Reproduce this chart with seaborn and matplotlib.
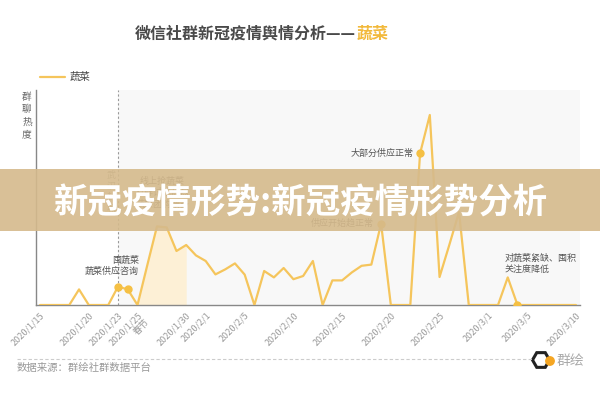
import numpy as np
import pandas as pd
import seaborn as sns
import matplotlib.pyplot as plt
from matplotlib.lines import Line2D
from matplotlib.patches import Rectangle, RegularPolygon, Circle

sns.set_theme(style='white')
plt.rcParams['font.family'] = ['Noto Sans CJK SC', 'DejaVu Sans']

# 群聊热度 (每日), 2020/1/15 - 2020/3/10
tanggal = pd.date_range('2020-01-15', '2020-03-10', freq='D')
heat = [0, 0, 0, 0, 7.8, 0, 0, 0, 9.2, 7.8,
        0, 19.8, 39.3, 38.8, 27, 30, 24.8, 22, 15.3, 17.8,
        20.8, 15.2, 0, 17, 13.8, 18.5, 12.9, 14.5, 22, 0,
        12.3, 12.3, 16.3, 19.6, 20.2, 40.7, 0, 0, 0, 75.8,
        95, 14, 30, 46.5, 0, 0, 0, 0, 13.8, 0,
        0, 0, 0, 0, 0, 0]

tick_dates = ['2020-01-15', '2020-01-20', '2020-01-23', '2020-01-25', '2020-01-30',
              '2020-02-01', '2020-02-05', '2020-02-10', '2020-02-15', '2020-02-20',
              '2020-02-25', '2020-03-01', '2020-03-05', '2020-03-10']
tick_labels = ['2020/1/15', '2020/1/20', '2020/1/23', '2020/1/25\n春节', '2020/1/30',
               '2020/2/1', '2020/2/5', '2020/2/10', '2020/2/15', '2020/2/20',
               '2020/2/25', '2020/3/1', '2020/3/5', '2020/3/10']

# 事件标注点
event_dates = ['2020-01-23', '2020-01-24', '2020-02-19', '2020-02-23', '2020-03-04']

df = pd.DataFrame({'tanggal': tanggal, 'heat': heat})
warna = '#f5c55c'

fig = plt.figure(figsize=(6, 4), dpi=100)
ax = fig.add_axes([0.06, 0.2375, 0.9067, 0.5375])

t0 = tanggal[0]
xmin = t0 - pd.Timedelta(hours=10)
xmax = t0 + pd.Timedelta(days=55, hours=10)

# latar abu-abu setelah 1/23
ax.axvspan(pd.Timestamp('2020-01-23'), xmax, color='#f8f8f8', zorder=0, lw=0)
ax.axvline(pd.Timestamp('2020-01-23'), color='#999999', lw=0.8, ls=(0, (2, 2)), zorder=1)

# area 春节 1/25 - 1/30
sub = df[(df.tanggal >= '2020-01-25') & (df.tanggal <= '2020-01-30')]
ax.fill_between(sub.tanggal, 0, sub.heat, color='#fdf0d6', zorder=1, lw=0)

sns.lineplot(data=df, x='tanggal', y='heat', color=warna, lw=1.6, ax=ax, zorder=3)

ev = df[df.tanggal.isin(pd.to_datetime(event_dates))]
ax.plot(ev.tanggal, ev.heat, 'o', color='#f5c044', ms=5, zorder=4)

ax.set_xlim(xmin, xmax)
ax.set_ylim(0, 107.5)
ax.set_xlabel('')
ax.set_ylabel('')
ax.set_yticks([])
ax.set_xticks(pd.to_datetime(tick_dates))
ax.set_xticklabels(tick_labels, rotation=45, ha='right', rotation_mode='anchor',
                   fontsize=6.5, color='#999999')
ax.tick_params(axis='x', direction='in', length=3, color='#999999', pad=4)
for s in ['top', 'right']:
    ax.spines[s].set_visible(False)
for s in ['left', 'bottom']:
    ax.spines[s].set_color('#888888')
    ax.spines[s].set_linewidth(1)

# anotasi
teks_kw = dict(fontsize=6.5, color='#555555')
ax.text(pd.Timestamp('2020-01-25 04:00'), 14.5, '囤蔬菜\n蔬菜供应咨询', ha='right', va='bottom',
        multialignment='right', linespacing=1.25, **teks_kw)
ax.annotate('供应开始趋正常', (pd.Timestamp('2020-02-19'), 40.7), xytext=(-5, 0),
            textcoords='offset points', ha='right', va='center', **teks_kw)
ax.annotate('大部分供应正常', (pd.Timestamp('2020-02-23'), 75.8), xytext=(-5, 0),
            textcoords='offset points', ha='right', va='center', **teks_kw)
ax.text(pd.Timestamp('2020-03-02 15:00'), 15.5, '对蔬菜紧缺、囤积\n关注度降低', ha='left', va='bottom',
        linespacing=1.25, **teks_kw)
ax.text(pd.Timestamp('2020-01-27 13:00'), 56, '线上抢蔬菜\n社群讨论热烈\n蔬菜团购增多', ha='center', va='center',
        linespacing=1.35, **teks_kw)
ax.text(pd.Timestamp('2020-01-22 07:00'), 67, '\n'.join('武汉封城'), ha='center', va='top',
        linespacing=1.25, fontsize=6.5, color='#888888')

# judul
fig.text(0.593, 0.915, '微信社群新冠疫情舆情分析——', ha='right', va='center',
         fontsize=11.5, fontweight='bold', color='#4a4a4a')
fig.text(0.595, 0.915, '蔬菜', ha='left', va='center',
         fontsize=11.5, fontweight='bold', color='#f2b93b')

# legenda
fig.add_artist(Line2D([40 / 600, 65 / 600], [0.8075, 0.8075], color=warna, lw=1.6))
fig.text(70 / 600, 0.8075, '蔬菜', ha='left', va='center', fontsize=7.5, color='#444444')

# label sumbu y
fig.text(27 / 600, 1 - 92 / 400, '\n'.join('群聊热度'), ha='center', va='top',
         fontsize=7, color='#666666', linespacing=1.3)

# footer
fig.add_artist(Line2D([17 / 600, 532 / 600], [0.1025, 0.1025], color='#cccccc', lw=0.8,
                      ls=(0, (3, 2))))
fig.text(17 / 600, 0.08, '数据来源：群绘社群数据平台', ha='left', va='center',
         fontsize=7.5, color='#999999')
fig.add_artist(RegularPolygon((5.41, 0.40), 6, radius=0.085, orientation=np.pi / 6,
                              transform=fig.dpi_scale_trans, facecolor='none',
                              edgecolor='#222222', lw=2.2))
fig.add_artist(Circle((5.50, 0.39), 0.042, transform=fig.dpi_scale_trans,
                      color='#f5a623', zorder=3))
fig.text(557 / 600, 0.098, '群绘', ha='left', va='center', fontsize=10, color='#aaaaaa')

# banner
fig.add_artist(Rectangle((0, 0.4225), 1, 0.155, transform=fig.transFigure,
                         facecolor='#d5ba8c', alpha=0.9, lw=0, zorder=5))
fig.text(0.5, 0.4925, '新冠疫情形势:新冠疫情形势分析', ha='center', va='center',
         fontsize=24.8, fontweight='bold', color='white', zorder=6)

plt.savefig('out.png', dpi=100)
